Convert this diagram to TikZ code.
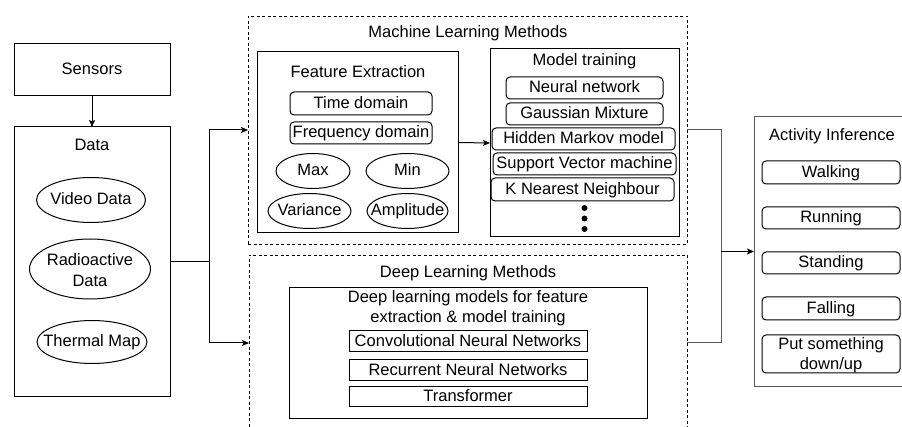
\documentclass[tikz,border=0pt]{standalone}
\usepackage{fontspec}
\setmainfont{Liberation Sans}
\usetikzlibrary{arrows.meta,shapes.geometric,fit}

\begin{document}
\begin{tikzpicture}[x=1pt,y=-1pt,
  font=\fontsize{16.5}{20.5}\selectfont,
  every node/.style={inner sep=0pt, outer sep=0pt},
  lbl/.style={text height=11.5pt, text depth=1.5pt},
  box/.style={draw, line width=1pt, rectangle},
  dbox/.style={draw, line width=0.9pt, dash pattern=on 3pt off 2.5pt, rectangle},
  rbox/.style={draw, line width=1pt, rounded corners=4pt, rectangle},
  oval/.style={draw, ellipse, line width=1pt},
  arr/.style={-{Stealth[length=7pt,width=6pt,inset=1.5pt]}, line width=1pt},
  wire/.style={line width=1pt},
  gwire/.style={line width=1pt, draw=black!65}]
\useasboundingbox (0,0) rectangle (902,427);
\clip (0,0) rectangle (902,427);

% ---------- inputs ----------
\node[box, fit={(14,44)(170,96)}] (sensors) {};
\node[lbl] (sensorst) at (sensors) {Sensors};
\node[box, fit={(14,127)(170,396)}] (data) {};
\node[lbl] (datat) at (92,146) {Data};
\node[oval, minimum width=109pt, minimum height=45pt] (vid) at (91,200) {};
\node[lbl] (vidt) at (vid) {Video Data};
\node[oval, minimum width=121pt, minimum height=60pt] (rad) at (90,269) {};
\node[align=center] (radt) at (90,270) {Radioactive\\Data};
\node[oval, minimum width=110pt, minimum height=43pt] (thm) at (92,342) {};
\node[lbl] (thmt) at (thm) {Thermal Map};

% ---------- machine learning ----------
\node[dbox, fit={(248,16)(687,244)}] (ml) {};
\node[lbl] (mlt) at (468,33) {Machine Learning Methods};

\node[box, fit={(257,52)(458,233)}] (fe) {};
\node[lbl] (fet) at (358,73) {Feature Extraction};
\node[rbox, fit={(290,92)(432,115)}] (td) {};
\node[lbl] (tdt) at (td) {Time domain};
\node[rbox, fit={(290,122)(432,144)}] (fd) {};
\node[lbl] (fdt) at (fd) {Frequency domain};
\node[oval, minimum width=74pt, minimum height=35pt] (max) at (313,171) {};
\node[lbl] (maxt) at (max) {Max};
\node[oval, minimum width=83pt, minimum height=35pt] (min) at (407.5,171) {};
\node[lbl] (mint) at (min) {Min};
\node[oval, minimum width=83pt, minimum height=35pt] (var) at (309.5,211) {};
\node[lbl] (vart) at (var) {Variance};
\node[oval, minimum width=81pt, minimum height=35pt] (amp) at (407.5,211) {};
\node[lbl] (ampt) at (amp) {Amplitude};

\node[box, fit={(490,49)(679,237)}] (mt) {};
\node[lbl] (mtt) at (584.5,61) {Model training};
\node[rbox, fit={(506,77)(663,99)}] (nn) {};
\node[lbl] (nnt) at (nn) {Neural network};
\node[rbox, fit={(506,103)(663,125)}] (gm) {};
\node[lbl] (gmt) at (gm) {Gaussian Mixture};
\node[rbox, fit={(492,128)(675,150)}] (hmm) {};
\node[lbl] (hmmt) at (hmm) {Hidden Markov model};
\node[rbox, fit={(493,153)(676,175)}] (svm) {};
\node[lbl] (svmt) at (svm) {Support Vector machine};
\node[rbox, fit={(491,178)(674,201)}] (knn) {};
\node[lbl] (knnt) at (knn) {K Nearest Neighbour};
\foreach \yy in {208,218.5,229} \fill (584.5,\yy) circle (3pt);

% ---------- deep learning ----------
\node[dbox, fit={(249,255)(687,431)}] (dl) {};
\node[lbl] (dlt) at (468,273) {Deep Learning Methods};
\node[box, fit={(289,288)(647,418)}] (dli) {};
\node[align=center] (dlit) at (468,308) {Deep learning models for feature\\extraction \& model training};
\node[box, fit={(349,331)(587,352)}] (cnn) {};
\node[lbl] (cnnt) at (cnn) {Convolutional Neural Networks};
\node[box, fit={(349,360)(587,381)}] (rnn) {};
\node[lbl] (rnnt) at (rnn) {Recurrent Neural Networks};
\node[box, fit={(349,386)(587,406)}] (tf) {};
\node[lbl] (tft) at (tf) {Transformer};

% ---------- outputs ----------
\node[box, draw=black!65, fit={(754,117)(905,386)}] (act) {};
\node[lbl] (actt) at (832,136) {Activity Inference};
\node[rbox, fit={(762,161)(900,184)}] (walk) {};
\node[lbl] (walkt) at (walk) {Walking};
\node[rbox, fit={(762,207)(900,229)}] (run) {};
\node[lbl] (runt) at (run) {Running};
\node[rbox, fit={(762,252)(900,274)}] (stand) {};
\node[lbl] (standt) at (stand) {Standing};
\node[rbox, fit={(762,297)(900,320)}] (fall) {};
\node[lbl] (fallt) at (fall) {Falling};
\node[rbox, fit={(762,335)(900,373)}] (put) {};
\node[align=center] (putt) at (831,355) {Put something\\down/up};

% ---------- connectors ----------
\coordinate (split) at (209,261.5);
\coordinate (merge) at (721,251.5);
\draw[arr] (sensors) -- (data);
\draw[wire] (data.east) -- (split);
\draw[arr] (split) |- (ml.west);
\draw[arr] (split) |- (dl.west);
\draw[arr] (fe.east) -- (mt.west);
\draw[gwire] (ml.east) -| (merge);
\draw[gwire] (dl.east) -| (merge);
\draw[arr] (merge) -- (act.west);
\end{tikzpicture}
\end{document}
